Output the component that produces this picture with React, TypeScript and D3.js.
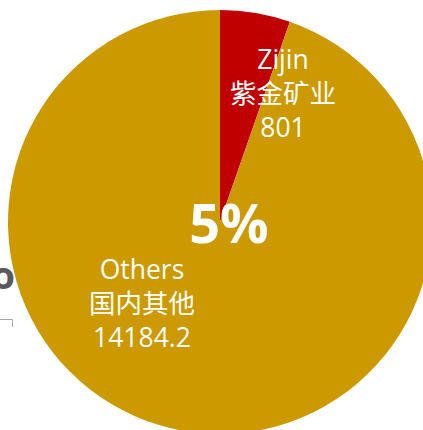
import React from 'react';
import * as d3 from 'd3';

const names = ['Zijin', 'Others'];
const namesCn = ['紫金矿业', '国内其他'];
const values = [801, 14184.2];
const colors = ['#C00000', '#CC9900'];

const W = 423;
const H = 430;
const cx = 220;
const cy = 222;
const R = 212;

// label anchor points (relative to pie centre), chosen by hand
const labelPos = [
  [63, -153],
  [-78, 57],
];

const font = '"Open Sans", "Noto Sans", "Noto Sans CJK SC", sans-serif';

const App = () => {
  const pie = d3.pie<number>().sort(null).value((d) => d);
  const arcs = pie(values);
  const arc = d3.arc<d3.PieArcDatum<number>>().innerRadius(0).outerRadius(R);
  const total = d3.sum(values);
  const share = d3.format('.0%')(values[0] / total);

  return (
    <svg width={W} height={H} style={{ position: 'absolute', left: 0, top: 0 }}>
      <rect width={W} height={H} fill="#fff" />
      {/* fragments of neighbouring slide content */}
      <text x={15} y={289} textAnchor="end" fontFamily={font} fontWeight="bold" fontSize={38} fill="#595959">o</text>
      <path d="M0,319.5H12.5V327" fill="none" stroke="#a6a6a6" strokeWidth={1} />

      <g transform={`translate(${cx},${cy})`}>
        {arcs.map((d, i) => (
          <path key={i} d={arc(d) || ''} fill={colors[i]} />
        ))}
        {arcs.map((d, i) => (
          <text key={'l' + i} x={labelPos[i][0]} y={labelPos[i][1]} textAnchor="middle" fill="#fff" fontFamily={font} fontSize={26.5}>
            <tspan x={labelPos[i][0]} dy={0}>{names[i]}</tspan>
            <tspan x={labelPos[i][0]} dy={34}>{namesCn[i]}</tspan>
            <tspan x={labelPos[i][0]} dy={34}>{String(values[i])}</tspan>
          </text>
        ))}
        <text x={9} y={21} textAnchor="middle" fill="#fff" fontFamily={font} fontWeight="bold" fontSize={54}>{share}</text>
      </g>
    </svg>
  );
};

export default App;
